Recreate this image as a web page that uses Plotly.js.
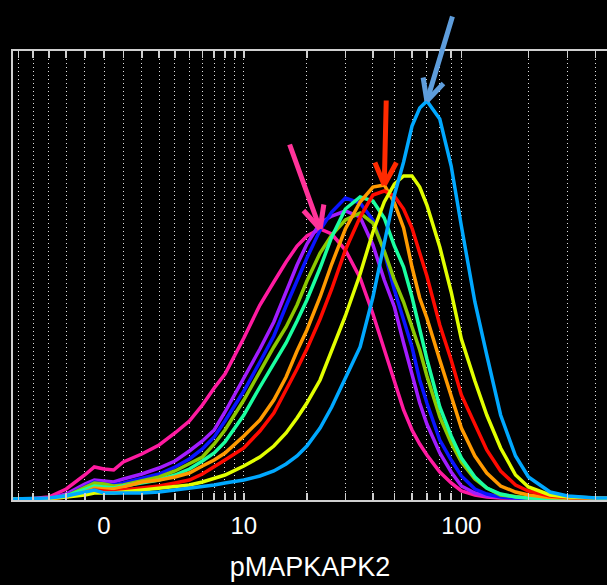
<!DOCTYPE html>
<html>
<head>
<meta charset="utf-8">
<script src="https://cdn.plot.ly/plotly-3.0.1.min.js"></script>
<style>html,body{margin:0;padding:0;background:#000;}#chart{width:607px;height:585px;}</style>
</head>
<body>
<div id="chart"></div>
<script>
// pMAPKAPK2 intensity values (linear units) at which curve heights were read
const intensity = [-5.5,-4,-3,-2,-1,-0.5,0,0.5,1,2,3,4,5,6,7,8,10,12,14,16,18,20,23,26,30,35,40,45,50,55,60,65,70,80,90,100,115,130,150,175,200,250,300,400,450];

// histogram heights (arbitrary count units)
const pink   = [0,0.5,2,10,24,32,30,29,37,45,54,66,78,94,111,125,161,194,217,237,253,263,270,265,249,221,185,149,116,89,69,55,44,27,16,8,4,2,1,1,0.5,0.5,0.5,0.5,0.5];
const purple = [0,0,0.5,5,15,19,18,17,20,25,31,38,48,58,69,87,121,150,177,206,234,255,276,283,288,282,254,219,192,156,123,96,75,46,27,13,6,3,2,1,0.5,0.5,0.5,0.5,0.5];
const blue   = [0,0,0.5,3,12,17,15,14,16,21,25,32,40,50,62,78,108,137,163,193,219,241,269,287,301,296,279,247,209,179,152,119,96,59,39,23,10,5,2,1,0.5,0.5,0.5,0.5,0.5];
const olive  = [0,0,0.5,3,11,16,15,13,14,18,22,28,35,42,55,69,99,128,152,172,194,218,246,264,279,286,276,248,219,197,173,149,123,82,56,37,20,11,4,2,1,0.5,0.5,0.5,0.5];
const aqua   = [0,0,0.5,3,9,13,12,11,13,16,19,24,30,38,46,57,84,112,135,156,178,199,231,262,290,302,298,281,253,232,202,169,140,92,63,41,22,11,5,2,1,0.5,0.5,0.5,0.5];
const orange = [0,0,0.5,2,7,11,10,10,12,17,19,22,26,33,39,46,63,79,99,122,148,169,202,235,270,297,312,314,296,271,232,201,181,139,104,71,43,26,13,7,4,1.5,1,0.5,0.5];
const red    = [0,0,0.5,2,6,9,8,7,9,11,13,16,19,25,32,39,51,68,86,109,130,150,180,210,249,282,304,308,303,290,271,246,223,174,139,104,75,49,28,14,8,3,1.5,0.5,0.5];
const yellow = [0,0,0.5,2,4,6,6,6,7,9,10,12,14,17,21,24,33,42,53,66,81,96,119,149,183,225,267,297,315,323,323,312,294,252,207,160,118,84,51,24,12,4,2,1,0.5];
const sky    = [0,0.5,1,3,7,9,6,6,6,6,7,9,11,12,14,16,19,23,28,35,43,53,71,92,121,152,202,254,304,337,373,391,398,380,333,273,197,144,84,43,22,7,3,1,1];

const seriesList  = [pink, purple, blue, olive, aqua, orange, red, yellow, sky];
const seriesNames = ['pink','purple','blue','olive','aqua','orange','red','yellow','sky'];
const seriesColors = ['#ff1aa0','#a21cff','#0a14ff','#8cc800','#1affa0','#ff9a00','#ff0a00','#e2ff00','#00a8ff'];
const drawOrder = [0,1,2,3,4,5,6,7,8];

// axis ticks (linear units) and labels
const tickValues = [-5,-4,-3,-2,-1,0,1,2,3,4,5,6,7,8,9,10,20,30,40,50,60,70,80,90,100,200,300,400];
const labelledTicks = [0,10,100];
const axisMin = -5.42, axisMax = 450;   // visible intensity range
const cofactor = 5;                      // arcsinh display cofactor

const tr = v => Math.asinh(v / cofactor);
const xs = intensity.map(tr);

const traces = drawOrder.map(i => ({
  type: 'scatter', mode: 'lines',
  x: xs, y: seriesList[i], name: seriesNames[i],
  line: {color: seriesColors[i], width: 3.5},
  hoverinfo: 'skip'
}));

// arrows: point at the peak of a series; tail/wing offsets in pixels
const arrows = [
  {series: 0, color: '#ff3399', tail: [-31,-86], wings: [[-18,-20],[4,-26]]},
  {series: 5, color: '#ff2a00', tail: [2,-86],   wings: [[-10,-24],[13,-24]]},
  {series: 8, color: '#5e9ddc', tail: [26,-86],  wings: [[-4,-25],[18,-19]]}
];
const annotations = [];
arrows.forEach(a => {
  const s = seriesList[a.series];
  let k = 0; s.forEach((v, j) => { if (v > s[k]) k = j; });
  [a.tail].concat(a.wings).forEach(off => {
    annotations.push({
      x: xs[k], y: s[k], xref: 'x', yref: 'y', text: '',
      showarrow: true, arrowhead: 0, arrowwidth: 5, arrowcolor: a.color,
      ax: off[0], ay: off[1], standoff: 0
    });
  });
});

const layout = {
  width: 607, height: 585,
  paper_bgcolor: '#000', plot_bgcolor: '#000',
  margin: {l: 13, r: 0, t: 51, b: 85},
  showlegend: false,
  font: {family: 'Liberation Sans, Arial, sans-serif', color: '#fff'},
  xaxis: {
    type: 'linear', range: [tr(axisMin), tr(axisMax)],
    tickmode: 'array', tickvals: tickValues.map(tr),
    ticktext: tickValues.map(v => labelledTicks.includes(v) ? String(v) : ''),
    ticks: 'inside', ticklen: 7, tickwidth: 1.5, tickcolor: '#cfcfcf',
    showline: true, linecolor: '#cfcfcf', linewidth: 2, mirror: 'ticks',
    showgrid: true, gridcolor: '#e0e0e0', gridwidth: 1, griddash: '1px,3px',
    zeroline: false,
    tickfont: {size: 24, color: '#fff'},
    ticklabelstandoff: 3,
    title: {text: 'pMAPKAPK2', font: {size: 27, color: '#fff'}, standoff: 19},
    automargin: false, fixedrange: true
  },
  yaxis: {
    range: [-1, 448], showticklabels: false, ticks: '',
    showgrid: false, zeroline: false,
    showline: true, linecolor: '#cfcfcf', linewidth: 2, mirror: false,
    automargin: false, fixedrange: true
  },
  annotations: annotations
};

Plotly.newPlot('chart', traces, layout, {displayModeBar: false, staticPlot: true});
</script>
</body>
</html>
